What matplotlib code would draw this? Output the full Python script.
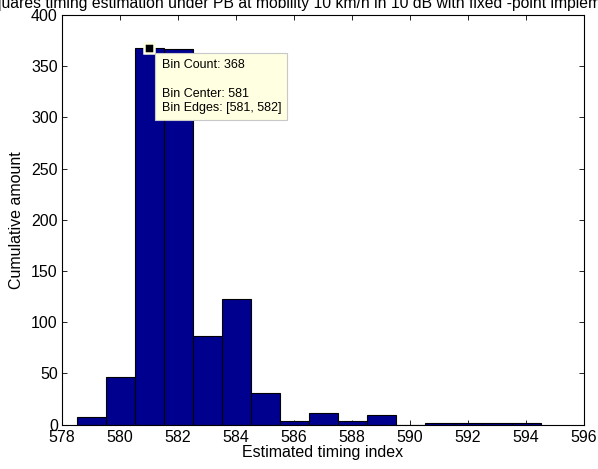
import matplotlib
matplotlib.use("Agg")
import matplotlib.pyplot as plt

plt.rcParams['font.family'] = ['Liberation Sans', 'DejaVu Sans']

# Histogram of estimated timing indices (bin centres, unit-width bins)
bin_centers = [579, 580, 581, 582, 583, 584, 585, 586, 587, 588, 589, 590, 591, 592, 593, 594]
bin_counts = [7, 46, 368, 367, 86, 123, 31, 3, 11, 3, 9, 0, 1, 1, 1, 1]
x_ticks = [578, 580, 582, 584, 586, 588, 590, 592, 594, 596]
y_ticks = [0, 50, 100, 150, 200, 250, 300, 350, 400]

title_text = ("Least squares timing estimation under PB at mobility 10 km/h "
              "in 10 dB with fixed -point implementation")

W, H = 598, 469
fig = plt.figure(figsize=(W / 100, H / 100), dpi=100)
ax_left, ax_right, ax_top, ax_bottom = 62, 584, 15, 424.5
ax = fig.add_axes([ax_left / W, 1 - ax_bottom / H,
                   (ax_right - ax_left) / W, (ax_bottom - ax_top) / H])

ax.bar(bin_centers, bin_counts, width=1.0, color='#00008F', edgecolor='black',
       linewidth=0.8, align='center', zorder=2)

ax.set_xlim(578, 596)
ax.set_ylim(0, 400)
ax.set_xticks(x_ticks)
ax.set_yticks(y_ticks)
ax.tick_params(direction='in', top=True, right=True, labelsize=11.5,
               length=3.6, width=0.6)
ax.tick_params(axis='x', pad=4)
ax.tick_params(axis='y', pad=3)
for s in ax.spines.values():
    s.set_linewidth(0.8)

ax.set_xlabel('Estimated timing index', fontsize=11.5, labelpad=0)
ax.set_ylabel('Cumulative amount', fontsize=11.5, labelpad=5)

# Figure-level title, wider than the canvas so its ends run off the edges
fig.text(300 / W, 1 - 8 / H, title_text, fontsize=11.3, ha='center', va='baseline')

# Data tip on the tallest bin
tip_x, tip_y = 581, bin_counts[bin_centers.index(581)]
ax.plot([tip_x], [tip_y], marker='s', markersize=7.6, color='black',
        markeredgecolor='#FFFFE1', markeredgewidth=1.8, zorder=5, clip_on=False)
ax.annotate("Bin Count: 368\n\nBin Center: 581\nBin Edges: [581, 582]",
            xy=(tip_x, tip_y), xytext=(9.1, -8.3), textcoords='offset points',
            ha='left', va='top', fontsize=9, linespacing=1.25, zorder=6,
            bbox=dict(boxstyle='square,pad=0.5', facecolor='#FFFFE1',
                      edgecolor='#C8C8C8', linewidth=0.8))

fig.savefig('out.png', dpi=100)
